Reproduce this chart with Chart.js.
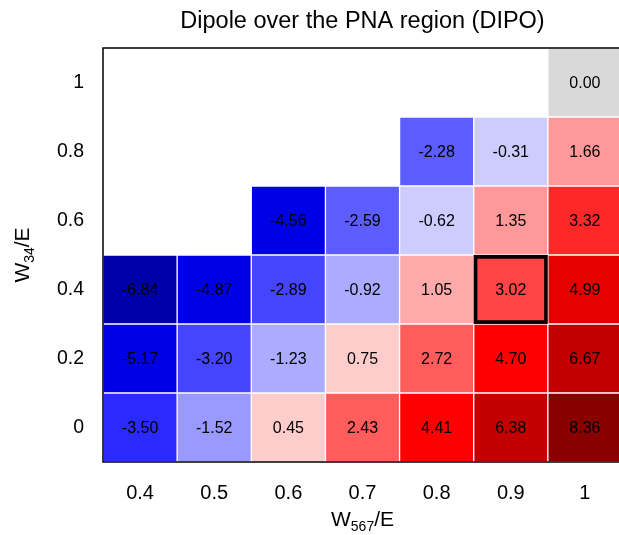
<!DOCTYPE html>
<html>
<head>
<meta charset="utf-8">
<script src="https://cdn.jsdelivr.net/npm/chart.js@4/dist/chart.umd.min.js"></script>
<style>
  html, body { margin: 0; padding: 0; background: #fff; overflow: hidden; }
  #wrap { width: 619px; height: 535px; overflow: hidden; }
</style>
</head>
<body>
<div id="wrap"><canvas id="heat" width="622" height="535"></canvas></div>
<script>
// Axis categories
const xLabels = ['0.4', '0.5', '0.6', '0.7', '0.8', '0.9', '1'];
const yRows = [0, 0.2, 0.4, 0.6, 0.8, 1];
const yTickLabels = ['0', '0.2', '0.4', '0.6', '0.8', '1'];

// Cell values per row (null = empty cell)
const row00 = [-3.50, -1.52, 0.45, 2.43, 4.41, 6.38, 8.36];
const row02 = [-5.17, -3.20, -1.23, 0.75, 2.72, 4.70, 6.67];
const row04 = [-6.84, -4.87, -2.89, -0.92, 1.05, 3.02, 4.99];
const row06 = [null, null, -4.56, -2.59, -0.62, 1.35, 3.32];
const row08 = [null, null, null, null, -2.28, -0.31, 1.66];
const row10 = [null, null, null, null, null, null, 0.00];
const rowValues = [row00, row02, row04, row06, row08, row10];

// highlighted cell: x = 0.9, y = 0.4
const highlight = { row: 2, col: 5 };

const FONT = '"Liberation Sans", Arial, Helvetica, sans-serif';

// binned blue-white-red colours
function cellColor(v) {
    if (v === 0) return '#d9d9d9';
    const bins = [
        [-6, '#0000a8'], [-4, '#0000e6'], [-3.3, '#2a2aff'], [-2.7, '#4545ff'],
        [-2, '#5c5cff'], [-1.4, '#9999ff'], [-0.8, '#ababff'], [0, '#ccccff'],
        [0.9, '#ffcccc'], [1.2, '#ffaaaa'], [2, '#ff9999'], [2.9, '#ff5c5c'],
        [3.2, '#ff4545'], [4, '#ff2828'], [4.8, '#ff0000'], [5.5, '#e60000'],
        [7.5, '#c20000']
    ];
    for (const [lim, c] of bins) {
        if (v < lim) return c;
    }
    return '#880000';
}

const datasets = yRows.map((y, r) => ({
    label: 'W34/E = ' + yTickLabels[r],
    data: rowValues[r].map(v => v === null ? null : [y - 0.1, y + 0.1]),
    backgroundColor: ctx => cellColor(rowValues[r][ctx.dataIndex]),
    borderColor: ctx => (r === highlight.row && ctx.dataIndex === highlight.col) ? '#000' : '#fff',
    borderWidth: ctx => (r === highlight.row && ctx.dataIndex === highlight.col) ? 4 : 1,
    borderSkipped: false,
    grouped: false,
    barPercentage: 1,
    categoryPercentage: 1
}));

// cell numbers, frame, titles
const decorPlugin = {
    id: 'decor',
    afterDatasetsDraw(chart) {
        const ctx = chart.ctx;
        ctx.save();
        ctx.font = '16px ' + FONT;
        ctx.fillStyle = '#000';
        ctx.textAlign = 'center';
        ctx.textBaseline = 'middle';
        chart.data.datasets.forEach((ds, r) => {
            const meta = chart.getDatasetMeta(r);
            meta.data.forEach((el, i) => {
                const v = rowValues[r][i];
                if (v === null) return;
                ctx.fillText(v.toFixed(2), el.x, (el.y + el.base) / 2 + 1);
            });
        });
        ctx.restore();
    },
    afterDraw(chart) {
        const ctx = chart.ctx;
        const a = chart.chartArea;
        ctx.save();
        ctx.strokeStyle = '#000';
        ctx.lineWidth = 1.5;
        ctx.strokeRect(a.left, a.top, a.right - a.left, a.bottom - a.top);

        const cx = (a.left + a.right) / 2;
        ctx.fillStyle = '#000';
        ctx.textBaseline = 'middle';
        ctx.textAlign = 'center';
        ctx.font = '23.5px ' + FONT;
        ctx.fillText('Dipole over the PNA region (DIPO)', cx, 22);

        // axis title with subscript
        function subTitle(main, sub, rest, x, y, rotate) {
            ctx.save();
            ctx.translate(x, y);
            if (rotate) ctx.rotate(-Math.PI / 2);
            ctx.textAlign = 'left';
            ctx.textBaseline = 'alphabetic';
            const big = '21px ' + FONT, small = '14px ' + FONT;
            ctx.font = big;
            const w1 = ctx.measureText(main).width;
            const w3 = ctx.measureText(rest).width;
            ctx.font = small;
            const w2 = ctx.measureText(sub).width;
            let px = -(w1 + w2 + w3) / 2;
            ctx.font = big;
            ctx.fillText(main, px, 7);
            px += w1;
            ctx.font = small;
            ctx.fillText(sub, px, 12);
            px += w2;
            ctx.font = big;
            ctx.fillText(rest, px, 7);
            ctx.restore();
        }
        subTitle('W', '567', '/E', cx, 519, false);
        subTitle('W', '34', '/E', 22, (a.top + a.bottom) / 2, true);
        ctx.restore();
    }
};

new Chart(document.getElementById('heat'), {
    type: 'bar',
    data: { labels: xLabels, datasets: datasets },
    options: {
        responsive: false,
        animation: false,
        layout: { padding: { top: 48, left: 0, right: 0, bottom: 0 } },
        plugins: {
            legend: { display: false },
            title: { display: false },
            tooltip: { enabled: false }
        },
        scales: {
            x: {
                type: 'category',
                offset: true,
                grid: { display: false },
                border: { display: false },
                ticks: {
                    color: '#000',
                    font: { family: FONT, size: 20 },
                    padding: 11,
                    maxRotation: 0
                },
                afterFit: s => { s.height = 73; }
            },
            y: {
                type: 'linear',
                min: -0.1,
                max: 1.1,
                grid: { display: false },
                border: { display: false },
                afterBuildTicks: s => { s.ticks = yRows.map(v => ({ value: v })); },
                ticks: {
                    color: '#000',
                    font: { family: FONT, size: 19.5 },
                    padding: 11,
                    callback: (val, i) => yTickLabels[i]
                },
                afterFit: s => { s.width = 103; }
            }
        }
    },
    plugins: [decorPlugin]
});
</script>
</body>
</html>
